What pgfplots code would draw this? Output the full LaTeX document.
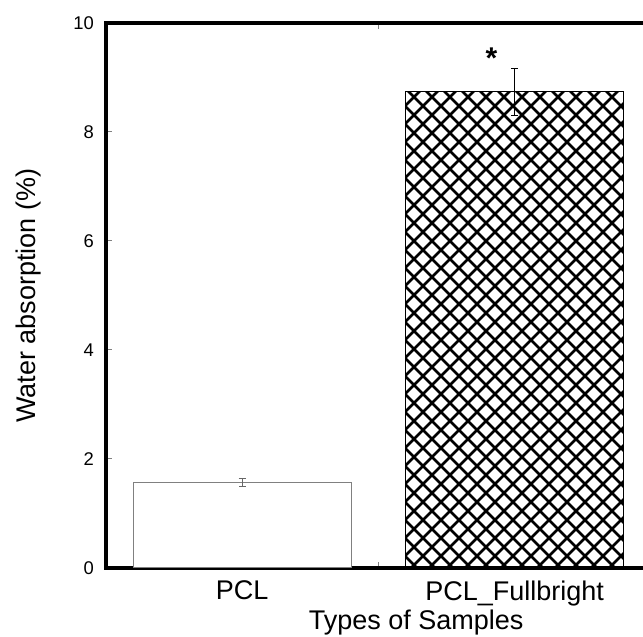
\documentclass[border=0pt]{standalone}
\usepackage{pgfplots}
\pgfplotsset{compat=1.18}
\usepackage{fontspec}
\setmainfont{Liberation Sans}
\usetikzlibrary{patterns,calc}

% diagonal cross hatch, tile 9pt
\pgfdeclarepatternformonly{xhatch}{\pgfpoint{-1pt}{-1pt}}{\pgfpoint{10pt}{10pt}}{\pgfpoint{9pt}{9pt}}{
  \pgfsetlinewidth{1.3pt}
  \pgfpathmoveto{\pgfpoint{0pt}{0pt}}\pgfpathlineto{\pgfpoint{9pt}{9pt}}
  \pgfpathmoveto{\pgfpoint{0pt}{9pt}}\pgfpathlineto{\pgfpoint{9pt}{0pt}}
  \pgfusepath{stroke}
}

\begin{document}
\begin{tikzpicture}
\begin{axis}[
  name=ax,
  scale only axis, width=272.5pt, height=272.5pt,
  xmin=-0.5, xmax=1.5, ymin=0, ymax=10,
  ybar, bar width=0.8, bar shift=0pt,
  axis line style={line width=2pt},
  tick style={gray, line width=0.5pt},
  major tick length=3pt, tick align=inside,
  ytick={0,2,4,6,8,10},
  xtick={0.5}, xticklabels={},
  extra x ticks={0,1}, extra x tick labels={PCL,PCL\_Fullbright},
  extra x tick style={major tick length=0pt, tick label style={font=\fontsize{13.5}{15}\selectfont, yshift=-3pt}},
  tick label style={font=\fontsize{9.2}{10}\selectfont},
  yticklabel style={xshift=-2.5pt},
  xlabel={Types of Samples}, ylabel={Water absorption (\%)},
  label style={font=\fontsize{13.5}{15}\selectfont},
  xlabel style={at={(axis description cs:0.569,-0.1)}, anchor=center},
  ylabel style={at={(axis description cs:-0.143,0.5)}, anchor=center},
  error bars/error mark options={rotate=90, mark size=1.8pt, line width=0.5pt},
  /pgf/number format/assume math mode=true,
]
\addplot[draw=gray, fill=white, line width=0.6pt,
  error bars/.cd, y dir=both, y explicit, error bar style={gray!80!black, line width=0.5pt}]
  coordinates {(0,1.57) +- (0,0.08)};
\addplot[draw=black, line width=0.6pt, pattern=xhatch, pattern color=black,
  error bars/.cd, y dir=both, y explicit, error bar style={black, line width=0.6pt}]
  coordinates {(1,8.74) +- (0,0.43)};
\node[font=\bfseries\fontsize{15}{17}\selectfont] at (axis cs:0.915,9.36) {*};
\end{axis}
\pgfresetboundingbox
\useasboundingbox ($(ax.south west)+(-53pt,-34.5pt)$) rectangle ($(ax.south west)+(268.5pt,284pt)$);
\end{tikzpicture}
\end{document}
